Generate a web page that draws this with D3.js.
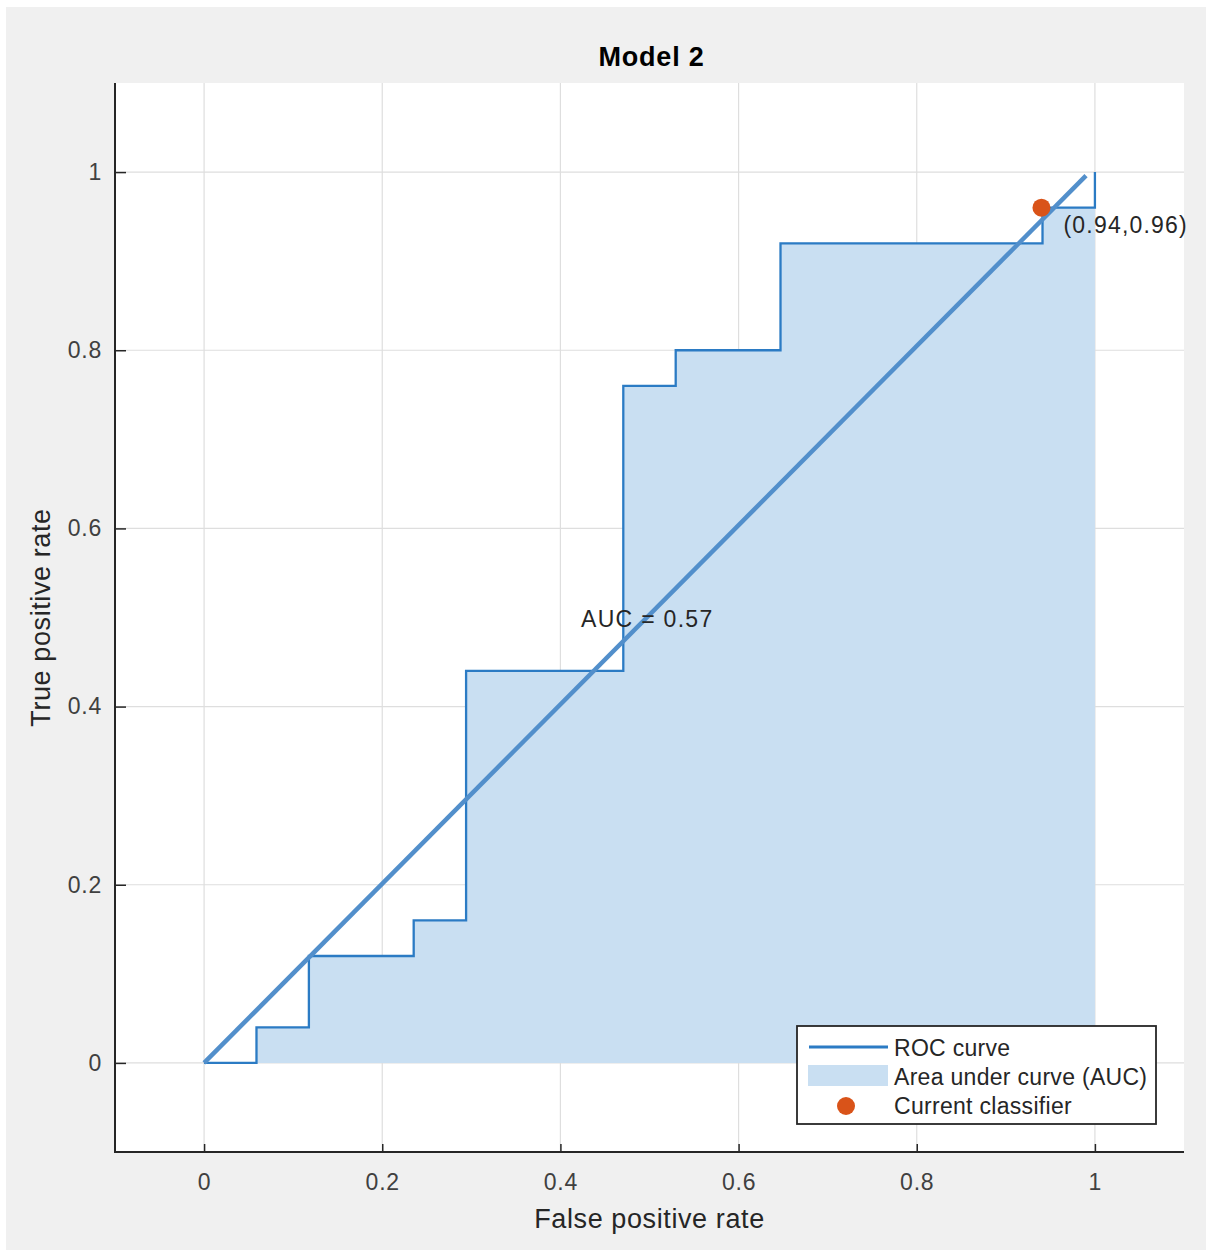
<!DOCTYPE html>
<html><head><meta charset="utf-8">
<script src="https://cdn.jsdelivr.net/npm/d3@7"></script>
<style>body{margin:0;background:#fff;}svg{display:block;font-family:"Liberation Sans",Arial,sans-serif;}</style>
</head><body>
<svg id="c" width="1212" height="1250"></svg>
<script>
const fpr = [0, 1/17, 1/17, 2/17, 2/17, 4/17, 4/17, 5/17, 5/17, 8/17, 8/17, 9/17, 9/17, 11/17, 11/17, 16/17, 16/17, 1, 1];
const tpr = [0, 0, 0.04, 0.04, 0.12, 0.12, 0.16, 0.16, 0.44, 0.44, 0.76, 0.76, 0.80, 0.80, 0.92, 0.92, 0.96, 0.96, 1.0];
const diagX = [0, 0.99];
const diagY = [0, 0.996];
const classifier = [0.94, 0.96];
const xTicks = [0, 0.2, 0.4, 0.6, 0.8, 1];
const yTicks = [0, 0.2, 0.4, 0.6, 0.8, 1];
const aucText = "AUC = 0.57";
const legendLabels = ["ROC curve", "Area under curve (AUC)", "Current classifier"];

const svg = d3.select("#c");
svg.append("rect").attr("x",6).attr("y",7).attr("width",1200).attr("height",1243).attr("fill","#f0f0f0");

const L=115, R=1184, T=83, B=1152;
const x = d3.scaleLinear().domain([-0.1,1.1]).range([L,R]);
const y = d3.scaleLinear().domain([-0.1,1.1]).range([B,T]);

svg.append("rect").attr("x",L).attr("y",T).attr("width",R-L).attr("height",B-T).attr("fill","#fff");

// grid
const g = svg.append("g");
g.selectAll(".gx").data(xTicks).enter().append("line")
  .attr("x1",d=>x(d)).attr("x2",d=>x(d)).attr("y1",T).attr("y2",B)
  .attr("stroke","#dedede").attr("stroke-width",1.2);
g.selectAll(".gy").data(yTicks).enter().append("line")
  .attr("y1",d=>y(d)).attr("y2",d=>y(d)).attr("x1",L).attr("x2",R)
  .attr("stroke","#dedede").attr("stroke-width",1.2);

const pts = fpr.map((f,i)=>[f,tpr[i]]);
const area = d3.area().x(d=>x(d[0])).y0(y(0)).y1(d=>y(d[1]));
svg.append("path").datum(pts).attr("d",area).attr("fill","#c9dff2");

const line = d3.line().x(d=>x(d[0])).y(d=>y(d[1]));
svg.append("path").datum(pts).attr("d",line).attr("fill","none")
  .attr("stroke","#2b7bc4").attr("stroke-width",2.3);

svg.append("path").datum(diagX.map((d,i)=>[d,diagY[i]])).attr("d",line)
  .attr("fill","none").attr("stroke","#528fcb").attr("stroke-width",4.5);

svg.append("circle").attr("cx",x(classifier[0])).attr("cy",y(classifier[1])).attr("r",9).attr("fill","#d95319");
svg.append("text").attr("x",x(classifier[0])+22).attr("y",y(classifier[1])+25)
  .attr("font-size",23).attr("letter-spacing",1.2).attr("fill","#262626").text(`(${classifier[0]},${classifier[1]})`);

svg.append("text").attr("x",581).attr("y",627).attr("font-size",23).attr("letter-spacing",1.3).attr("fill","#262626").text(aucText);

const ax = d3.axisBottom(x).tickValues(xTicks).tickSize(-8).tickPadding(18).tickFormat(d3.format("~g"));
const gx = svg.append("g").attr("transform",`translate(0,${B})`).call(ax);
const ay = d3.axisLeft(y).tickValues(yTicks).tickSize(-11).tickPadding(13).tickFormat(d3.format("~g"));
const gy = svg.append("g").attr("transform",`translate(${L},0)`).call(ay);
[gx,gy].forEach(a=>{
  a.select(".domain").remove();
  a.selectAll(".tick line").attr("stroke","#262626").attr("stroke-width",1.5);
  a.selectAll(".tick text").attr("font-size",23).attr("letter-spacing",0.8).attr("fill","#404040").attr("font-family","Liberation Sans, Arial, sans-serif");
});
gx.selectAll(".tick text").attr("dy","0.85em");
svg.append("path").attr("d",`M${L},${T}V${B}H${R}`).attr("fill","none").attr("stroke","#262626").attr("stroke-width",2);

svg.append("text").attr("x",(L+R)/2+2).attr("y",66).attr("text-anchor","middle").attr("font-size",27)
  .attr("letter-spacing",0.8).attr("font-weight","bold").attr("fill","#000").text("Model 2");
svg.append("text").attr("x",(L+R)/2).attr("y",1228).attr("text-anchor","middle").attr("font-size",27)
  .attr("letter-spacing",0.6).attr("fill","#262626").text("False positive rate");
svg.append("text").attr("transform",`translate(50,${(T+B)/2}) rotate(-90)`).attr("text-anchor","middle")
  .attr("font-size",27).attr("letter-spacing",0.6).attr("fill","#262626").text("True positive rate");

const lg = svg.append("g");
lg.append("rect").attr("x",797).attr("y",1026).attr("width",359).attr("height",98)
  .attr("fill","#fff").attr("stroke","#262626").attr("stroke-width",1.8);
lg.append("line").attr("x1",809).attr("x2",888).attr("y1",1047).attr("y2",1047).attr("stroke","#2b7bc4").attr("stroke-width",3);
lg.append("rect").attr("x",808).attr("y",1065).attr("width",80).attr("height",21).attr("fill","#c9dff2");
lg.append("circle").attr("cx",846).attr("cy",1106).attr("r",9).attr("fill","#d95319");
lg.selectAll(".lt").data(legendLabels).enter().append("text")
  .attr("x",894).attr("y",(d,i)=>1056+i*29).attr("font-size",23).attr("fill","#262626")
  .attr("letter-spacing",0.3).text(d=>d);
</script>
</body></html>
